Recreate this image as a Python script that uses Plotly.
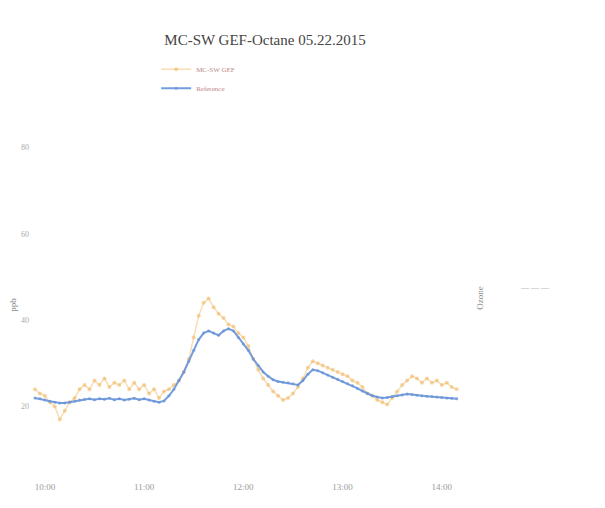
import pandas as pd
import plotly.graph_objects as go

# Sampling times (3-minute intervals)
times = pd.date_range("2015-05-22 09:54", periods=86, freq="3min")

# Raw sensor readings (noisy)
raw_values = [
    24, 23, 22.5, 21, 20, 17, 19, 21, 22, 24,
    25, 24, 26, 25, 26.5, 24.5, 25.5, 25, 26, 24,
    25.5, 24, 25, 23, 24, 22, 23.5, 24, 25, 26,
    28, 31, 36, 41, 44, 45, 43, 41.5, 40.5, 39,
    38.5, 37, 36, 34, 31, 28.5, 26.5, 25, 23.5, 22.5,
    21.5, 22, 23, 24.5, 26.5, 29, 30.5, 30, 29.5, 29,
    28.5, 28, 27.5, 27, 26, 25.5, 24.5, 23, 22.5, 21.5,
    21, 20.5, 22, 23.5, 25, 26, 27, 26.5, 25.5, 26.5,
    25.5, 26, 25, 25.5, 24.5, 24,
]

# Reference monitor readings
ref_values = [
    22, 21.8, 21.5, 21.2, 21, 20.8, 20.8, 21, 21.2, 21.5,
    21.7, 21.8, 21.6, 21.8, 21.7, 21.9, 21.6, 21.8, 21.5, 21.7,
    21.9, 21.6, 21.8, 21.5, 21.2, 21, 21.3, 22.5, 24, 26,
    28, 30.5, 33, 35.5, 37, 37.5, 37, 36.5, 37.5, 38,
    37.5, 36, 34.5, 33, 31, 29.5, 28, 27, 26.2, 25.8,
    25.6, 25.5, 25.3, 25, 26, 27.5, 28.5, 28.3, 27.8, 27.3,
    26.8, 26.3, 25.8, 25.3, 24.8, 24.2, 23.6, 23, 22.5, 22.2,
    22, 22.1, 22.3, 22.5, 22.7, 22.9, 22.8, 22.6, 22.5, 22.4,
    22.3, 22.2, 22.1, 22, 21.9, 21.8,
]

series_names = ["MC-SW GEF", "Reference"]
y_ticks = [20, 40, 60, 80]

fig = go.Figure()
fig.add_trace(go.Scatter(
    x=times, y=raw_values, name=series_names[0], mode="lines+markers",
    line=dict(color="rgba(240,190,110,0.5)", width=1.5),
    marker=dict(color="rgba(240,180,90,0.55)", size=4),
))
fig.add_trace(go.Scatter(
    x=times, y=ref_values, name=series_names[1], mode="lines+markers",
    line=dict(color="rgba(90,140,220,0.85)", width=2),
    marker=dict(color="rgba(110,150,210,0.8)", size=3),
))

fig.update_layout(
    width=605, height=508,
    paper_bgcolor="white", plot_bgcolor="white",
    margin=dict(l=30, r=140, t=130, b=28),
    font=dict(family="Liberation Serif", size=10, color="#555"),
    title=dict(text="MC-SW GEF-Octane 05.22.2015", x=0.438, xanchor="center",
               y=0.921, yanchor="middle", font=dict(size=15, color="#444")),
    legend=dict(x=0.29, y=1.215, xanchor="left", yanchor="top",
                font=dict(size=7, color="#b88"), bgcolor="rgba(0,0,0,0)",
                itemwidth=30, tracegroupgap=0),
    xaxis=dict(showgrid=False, zeroline=False, showline=False,
               tickformat="%H:%M", dtick=3600000,
               tick0="2015-05-22 10:00",
               range=["2015-05-22 09:51", "2015-05-22 14:14"],
               tickfont=dict(size=9, color="#999")),
    yaxis=dict(showgrid=False, zeroline=False, showline=False,
               range=[3, 84], tickvals=y_ticks,
               tickfont=dict(size=8, color="#aaa"),
               title=dict(text="ppb", font=dict(size=9, color="#888"), standoff=2)),
)

fig.add_annotation(text="Ozone", xref="paper", yref="paper", x=1.05, y=0.52,
                   textangle=-90, showarrow=False, font=dict(size=9, color="#888"))
fig.add_annotation(text="— — —", xref="paper", yref="paper", x=1.2, y=0.55,
                   showarrow=False, font=dict(size=8, color="#bbb"))

fig.write_html("out.html")
